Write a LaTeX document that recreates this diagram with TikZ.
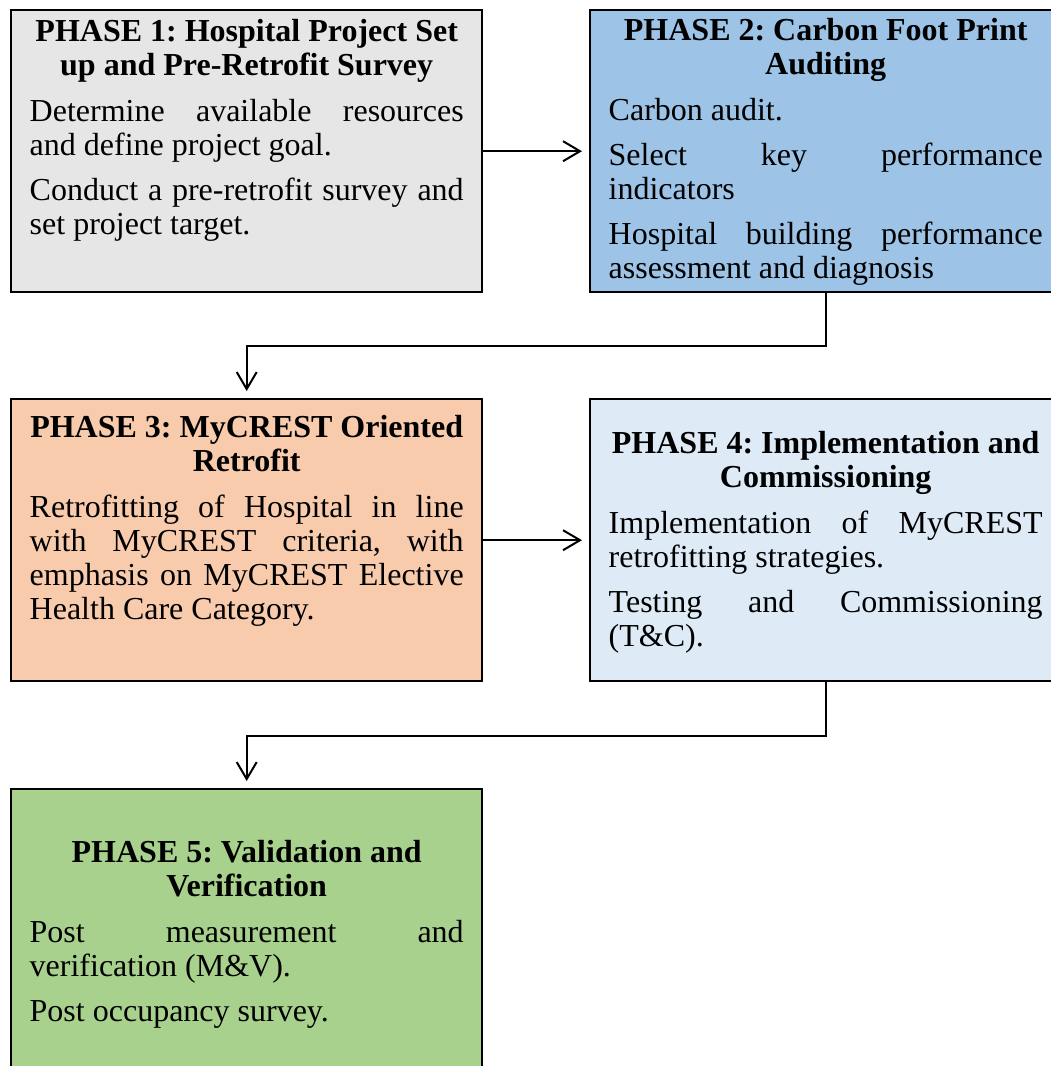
\documentclass[tikz,border=0pt]{standalone}
\usepackage{fontspec}
\setmainfont{Liberation Serif}
\usepackage{xcolor}
\usepackage[]{tikz}
\usetikzlibrary{positioning,arrows.meta}
\definecolor{phaseGray}{HTML}{E7E6E6}
\definecolor{phaseBlue}{HTML}{9DC3E6}
\definecolor{phaseOrange}{HTML}{F8CBAD}
\definecolor{phaseLight}{HTML}{DEEBF7}
\definecolor{phaseGreen}{HTML}{A9D18E}
\hyphenpenalty=10000
\exhyphenpenalty=10000
\frenchspacing
\tikzset{phase box/.style={rectangle,draw,line width=1.2pt,minimum width=235.5pt,minimum height=141pt,inner sep=0pt,anchor=north west}}
\tikzset{phase text/.style={anchor=north,text width=217pt,align=justify,inner sep=0pt,font=\fontsize{16}{17}\selectfont,execute at begin node=\setlength{\parindent}{0pt}}}
\tikzset{flow/.style={line width=1pt,-{Straight Barb[length=8.5pt,width=10pt]},shorten >=3.5pt}}
\newcommand{\phasetitle}[1]{{\centering\bfseries #1\par}\vspace{6pt}}
\newcommand{\nextpara}{\par\vspace{5.5pt}}

\begin{document}
\begin{tikzpicture}[x=0.5pt,y=-0.5pt]
      \useasboundingbox (0,0) rectangle (1050,1066);
      \node[phase box,fill=phaseGray] (p1) at (10,9) {};
      \node[phase box,fill=phaseBlue] (p2) at (589,9) {};
      \node[phase box,fill=phaseOrange] (p3) at (10,398) {};
      \node[phase box,fill=phaseLight] (p4) at (589,398) {};
      \node[phase box,fill=phaseGreen,minimum height=146pt] (p5) at (10,788) {};
      \node[phase text] (t1) [below=5pt of p1.north] {\phasetitle{PHASE 1: Hospital Project Set\\ up and Pre-Retrofit Survey}
        Determine available resources\linebreak and define project goal.\nextpara
        Conduct a pre-retrofit survey and\linebreak set project target.};
      \node[phase text] (t2) [below=4.5pt of p2.north] {\phasetitle{PHASE 2: Carbon Foot Print\\ Auditing}
        Carbon audit.\nextpara
        Select key performance\linebreak indicators\nextpara
        Hospital building performance\linebreak assessment and diagnosis};
      \node[phase text] (t3) [below=8.5pt of p3.north] {\phasetitle{PHASE 3: MyCREST Oriented\\ Retrofit}
        Retrofitting of Hospital in line\linebreak with MyCREST criteria, with\linebreak emphasis on MyCREST Elective\linebreak Health Care Category.};
      \node[phase text] (t4) [below=16.5pt of p4.north] {\phasetitle{PHASE 4: Implementation and\\ Commissioning}
        Implementation of MyCREST\linebreak retrofitting strategies.\nextpara
        Testing and Commissioning\linebreak (T\&C).};
      \node[phase text] (t5) [below=26pt of p5.north] {\phasetitle{PHASE 5: Validation and\\ Verification}
        Post measurement and\linebreak verification (M\&V).\nextpara
        Post occupancy survey.};
      \draw[flow] (p1.east) -- (p2.west);
      \draw[flow] (p3.east) -- (p4.west);
      \draw[flow] (p2.south) -- ++(0,53) -| (p3.north);
      \draw[flow] (p4.south) -- ++(0,54) -| (p5.north);
    \end{tikzpicture}
\end{document}
